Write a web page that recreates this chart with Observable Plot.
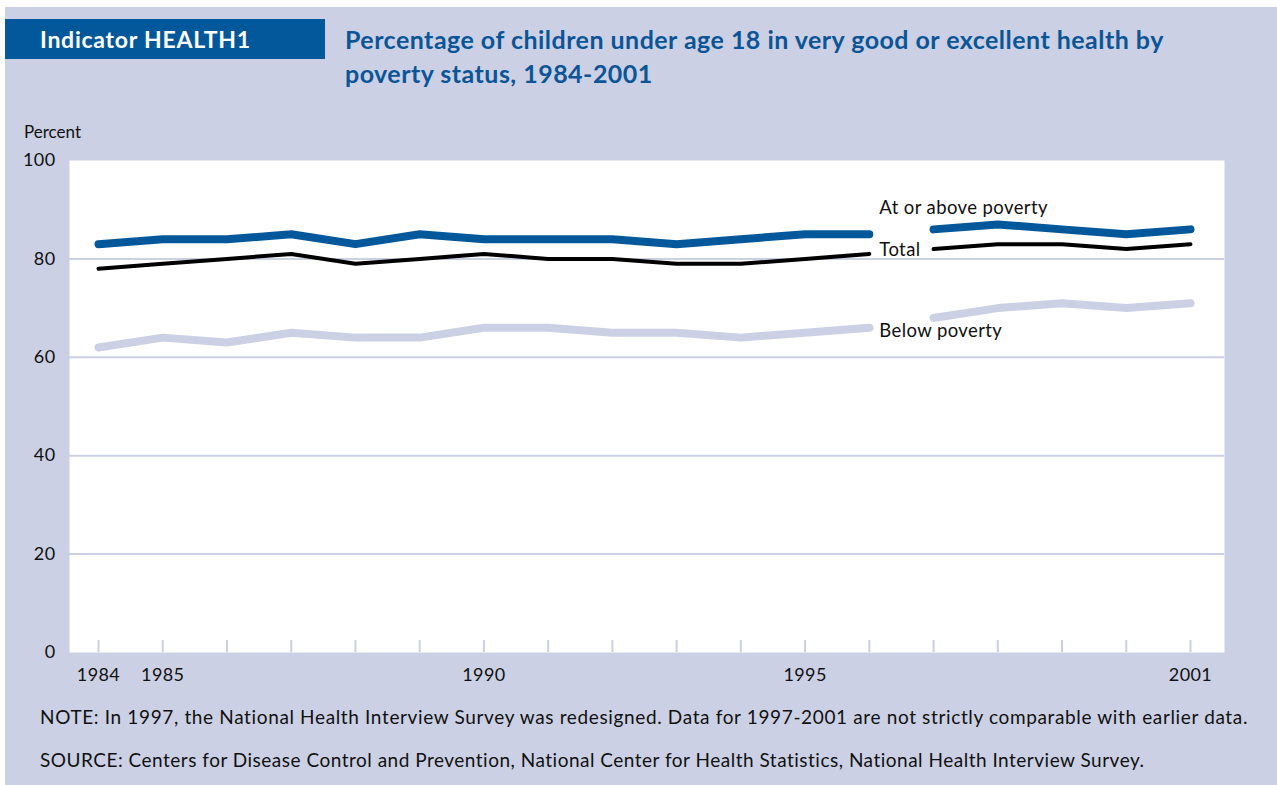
<!DOCTYPE html>
<html>
<head>
<meta charset="utf-8">
<script src="https://cdn.jsdelivr.net/npm/d3@7"></script>
<script src="https://cdn.jsdelivr.net/npm/@observablehq/plot@0.6"></script>
<style>
  html, body { margin: 0; padding: 0; background: #ffffff; width: 1277px; height: 785px; overflow: hidden; }
  #panel { position: absolute; left: 5px; top: 7px; width: 1272px; height: 778px; background: #cbd0e4; }
  #badge { position: absolute; left: 5px; top: 19px; width: 320px; height: 40px; background: #03589b; color: #fff;
           font-family: Lato, sans-serif; font-weight: 700; font-size: 23px; letter-spacing: 0.75px; line-height: 40px; box-sizing: border-box; padding-left: 35px; }
  #title { position: absolute; left: 345px; top: 22px; width: 920px; color: #0b5597; font-family: Lato, sans-serif;
           font-weight: 700; font-size: 25px; letter-spacing: 0.47px; line-height: 34px; }
  #ylab { position: absolute; left: 24px; top: 121px; font-family: Lato, sans-serif; font-size: 17px; color: #111; }
  .foot { position: absolute; left: 40px; font-family: Lato, sans-serif; font-size: 19px; color: #111; white-space: nowrap; }
  #chart { position: absolute; left: 0; top: 100px; }
  #chart text { letter-spacing: 0.4px; }
</style>
</head>
<body>
<div id="panel"></div>
<div id="badge">Indicator HEALTH1</div>
<div id="title">Percentage of children under age 18 in very good or excellent health by<br>poverty status, 1984-2001</div>
<div id="ylab">Percent</div>
<div id="chart"></div>
<div class="foot" id="note" style="top:705px; letter-spacing:0.64px">NOTE: In 1997, the National Health Interview Survey was redesigned. Data for 1997-2001 are not strictly comparable with earlier data.</div>
<div class="foot" id="source" style="top:748px; letter-spacing:0.5px">SOURCE: Centers for Disease Control and Prevention, National Center for Health Statistics, National Health Interview Survey.</div>
<script>
const years = [1984,1985,1986,1987,1988,1989,1990,1991,1992,1993,1994,1995,1996,1997,1998,1999,2000,2001];
const atOrAbove = [83,84,84,85,83,85,84,84,84,83,84,85,85,86,87,86,85,86];
const total     = [78,79,80,81,79,80,81,80,80,79,79,80,81,82,83,83,82,83];
const below     = [62,64,63,65,64,64,66,66,65,65,64,65,66,68,70,71,70,71];
const redesignYear = 1997;
const tickYears = [1984,1985,1990,1995,2001];
const yTicks = [0,20,40,60,80,100];
const gridTicks = [20,40,60,80];

const seriesList = [
  {name: "At or above poverty", values: atOrAbove, color: "#03589b", width: 8, dy: -26},
  {name: "Total", values: total, color: "#000000", width: 4, dy: -4},
  {name: "Below poverty", values: below, color: "#cbd0e4", width: 8, dy: 3}
];

const rows = [];
for (const s of seriesList) {
  years.forEach((y, i) => rows.push({series: s.name, year: y, value: s.values[i], seg: y < redesignYear ? "before" : "after"}));
}

const lavender = "#cbd0e4";
const W = 1277, H = 600;
const mTop = 60, mBottom = 48;
const plotH = H - mTop - mBottom;

const marks = [
  Plot.frame({fill: "white", stroke: null}),
  Plot.ruleY(gridTicks, {stroke: lavender, strokeWidth: 2}),
  Plot.ruleX(years, {stroke: lavender, strokeWidth: 2, insetTop: plotH - 12}),
  Plot.axisY({ticks: yTicks, tickSize: 0, tickPadding: 14, fontSize: 18, fill: "#111", label: null}),
  Plot.axisX({ticks: tickYears, tickFormat: d => String(d), tickSize: 0, tickPadding: 16, fontSize: 18, fill: "#111", label: null})
];
for (const s of [...seriesList].reverse()) {
  marks.push(Plot.line(rows.filter(r => r.series === s.name), {
    x: "year", y: "value", z: "seg", stroke: s.color, strokeWidth: s.width,
    strokeLinecap: "round", strokeLinejoin: "round"
  }));
}
for (const s of seriesList) {
  marks.push(Plot.text(rows.filter(r => r.series === s.name && r.year === redesignYear - 1), {
    x: "year", y: "value", text: d => d.series, textAnchor: "start", dx: 10, dy: s.dy,
    fontSize: 18.5, fill: "#111"
  }));
}

const chart = Plot.plot({
  width: W, height: H,
  marginTop: mTop, marginBottom: mBottom, marginLeft: 69, marginRight: 53,
  style: {background: "transparent", fontFamily: "Lato, sans-serif", color: "#111", overflow: "visible"},
  x: {domain: [1984 - 29/64.2, 2001 + 34/64.2], axis: null},
  y: {domain: [0, 100], axis: null},
  marks
});
document.getElementById("chart").appendChild(chart);
</script>
</body>
</html>
